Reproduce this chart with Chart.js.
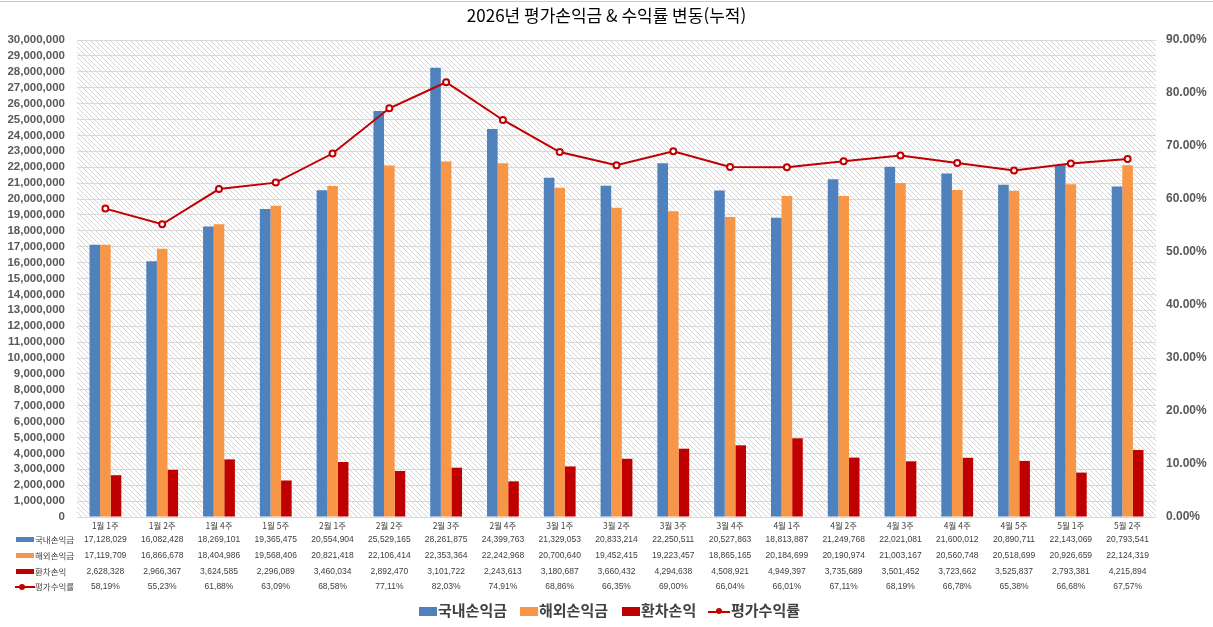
<!DOCTYPE html>
<html lang="ko">
<head>
<meta charset="utf-8">
<title>2026년 평가손익금 & 수익률 변동(누적)</title>
<script src="https://cdn.jsdelivr.net/npm/chart.js@4.4.1/dist/chart.umd.min.js"></script>
<style>
  html, body { margin: 0; padding: 0; background: #fff; }
  #wrap { width: 1213px; height: 627px; }
</style>
</head>
<body>
<div id="wrap"><canvas id="chart" width="1213" height="627"></canvas></div>
<script>
const weeks = ['1월 1주', '1월 2주', '1월 4주', '1월 5주', '2월 1주', '2월 2주', '2월 3주', '2월 4주', '3월 1주', '3월 2주',
               '3월 3주', '3월 4주', '4월 1주', '4월 2주', '4월 3주', '4월 4주', '4월 5주', '5월 1주', '5월 2주'];
const domestic = [17128029, 16082428, 18269101, 19365475, 20554904, 25529165, 28261875, 24399763, 21329053, 20833214,
                  22250511, 20527863, 18813887, 21249768, 22021081, 21600012, 20890711, 22143069, 20793541];
const overseas = [17119709, 16866678, 18404986, 19568406, 20821418, 22106414, 22353364, 22242968, 20700640, 19452415,
                  19223457, 18865165, 20184699, 20190974, 21003167, 20560748, 20518699, 20926659, 22124319];
const fxGain = [2628328, 2966367, 3624585, 2296089, 3460034, 2892470, 3101722, 2243613, 3180687, 3660432,
                4294638, 4508921, 4949397, 3735689, 3501452, 3723662, 3525837, 2793381, 4215894];
const returnRate = [58.19, 55.23, 61.88, 63.09, 68.58, 77.11, 82.03, 74.91, 68.86, 66.35,
                    69.00, 66.04, 66.01, 67.11, 68.19, 66.78, 65.38, 66.68, 67.57];

const seriesNames = ['국내손익금', '해외손익금', '환차손익', '평가수익률'];
const colors = ['#4f81bd', '#f79646', '#c00000', '#c00000'];
const FONT = '"Liberation Sans", "Noto Sans CJK KR", sans-serif';
const KFONT = '"Noto Sans CJK KR", "Liberation Sans", sans-serif';

// 빗금 배경 패턴
function makeHatch() {
  const s = 5;
  const c = document.createElement('canvas');
  c.width = s; c.height = s;
  const g = c.getContext('2d');
  g.fillStyle = '#ffffff';
  g.fillRect(0, 0, s, s);
  g.fillStyle = '#d6d6d6';
  for (let i = 0; i < s; i++) g.fillRect(i, i, 1, 1);
  return c;
}

const fmt = n => n.toLocaleString('en-US');

const backgroundPlugin = {
  id: 'hatchBg',
  beforeDraw(chart) {
    const { ctx, chartArea: a } = chart;
    ctx.save();
    // 시트 셀 테두리
    ctx.strokeStyle = '#c8c8c8';
    ctx.lineWidth = 1;
    ctx.beginPath();
    ctx.moveTo(0, 1.5); ctx.lineTo(chart.width, 1.5);
    ctx.stroke();
    ctx.fillStyle = ctx.createPattern(makeHatch(), 'repeat');
    ctx.fillRect(a.left, a.top, a.right - a.left, a.bottom - a.top);
    ctx.restore();
  }
};

// 데이터 표 + 범례
const tablePlugin = {
  id: 'dataTable',
  afterDraw(chart) {
    const { ctx } = chart;
    const x = chart.scales.x;
    const rows = [
      domestic.map(fmt),
      overseas.map(fmt),
      fxGain.map(fmt),
      returnRate.map(v => v.toFixed(2).replace('.', ',') + '%')
    ];
    const rowY = [540, 556, 572, 587];
    ctx.save();
    ctx.textBaseline = 'middle';
    rows.forEach((row, r) => {
      const y = rowY[r];
      // 범례 표시
      if (r < 3) {
        ctx.fillStyle = colors[r];
        ctx.fillRect(16, y - 3, 18, 5);
      } else {
        ctx.strokeStyle = colors[r];
        ctx.lineWidth = 2;
        ctx.beginPath();
        ctx.moveTo(15, y); ctx.lineTo(35, y);
        ctx.stroke();
        ctx.fillStyle = colors[r];
        ctx.beginPath();
        ctx.arc(22, y, 3, 0, Math.PI * 2);
        ctx.fill();
      }
      ctx.fillStyle = '#404040';
      ctx.font = '8.5px ' + KFONT;
      ctx.textAlign = 'left';
      ctx.fillText(seriesNames[r], 35, y);
      ctx.font = '8.5px ' + FONT;
      ctx.textAlign = 'center';
      row.forEach((txt, i) => {
        ctx.fillText(txt, x.getPixelForValue(i), y);
      });
    });

    // 하단 범례
    const items = [
      { x: 419, w: 18 },
      { x: 520, w: 18 },
      { x: 622, w: 18 },
      { x: 708, w: 22 }
    ];
    const ly = 610;
    ctx.font = 'bold 15px ' + KFONT;
    ctx.textAlign = 'left';
    items.forEach((it, i) => {
      if (i < 3) {
        ctx.fillStyle = colors[i];
        ctx.fillRect(it.x, ly - 3, it.w, 9);
      } else {
        ctx.strokeStyle = colors[i];
        ctx.lineWidth = 2;
        ctx.beginPath();
        ctx.moveTo(it.x, ly + 2); ctx.lineTo(it.x + it.w, ly + 2);
        ctx.stroke();
        ctx.fillStyle = colors[i];
        ctx.beginPath();
        ctx.arc(it.x + it.w / 2, ly + 1, 3, 0, Math.PI * 2);
        ctx.fill();
      }
      ctx.fillStyle = '#404040';
      ctx.fillText(seriesNames[i], it.x + it.w + 1, ly);
    });
    ctx.restore();
  }
};

const barCommon = {
  type: 'bar',
  yAxisID: 'y',
  barPercentage: 1,
  categoryPercentage: 0.56,
  order: 1
};

new Chart(document.getElementById('chart').getContext('2d'), {
  data: {
    labels: weeks,
    datasets: [
      { ...barCommon, label: seriesNames[0], data: domestic, backgroundColor: colors[0] },
      { ...barCommon, label: seriesNames[1], data: overseas, backgroundColor: colors[1] },
      { ...barCommon, label: seriesNames[2], data: fxGain, backgroundColor: colors[2] },
      {
        type: 'line',
        label: seriesNames[3],
        data: returnRate,
        yAxisID: 'y1',
        borderColor: colors[3],
        borderWidth: 2,
        pointRadius: 3,
        pointBorderWidth: 2,
        pointBackgroundColor: '#ffffff',
        pointBorderColor: colors[3],
        tension: 0,
        order: 0
      }
    ]
  },
  options: {
    responsive: false,
    animation: false,
    layout: { padding: { left: 0, right: 0, top: 0, bottom: 0 } },
    plugins: {
      legend: { display: false },
      tooltip: { enabled: false },
      title: {
        display: true,
        text: '2026년 평가손익금 & 수익률 변동(누적)',
        color: '#000000',
        font: { family: KFONT, size: 17, weight: 'normal' },
        padding: { top: 5, bottom: 14.6 }
      }
    },
    scales: {
      x: {
        grid: { display: false, drawTicks: false },
        border: { display: false },
        ticks: { color: '#404040', font: { family: KFONT, size: 8.5 }, padding: 4, maxRotation: 0, autoSkip: false },
        afterFit(scale) { scale.height = 110; }
      },
      y: {
        position: 'left',
        min: 0,
        max: 30000000,
        grid: { color: '#d9d9d9', drawTicks: false },
        border: { display: false },
        ticks: {
          stepSize: 1000000,
          autoSkip: false,
          padding: 12,
          color: '#595959',
          font: { family: FONT, size: 11.5, weight: 'bold' },
          callback: v => fmt(v)
        },
        afterFit(scale) { scale.width = 77; }
      },
      y1: {
        position: 'right',
        min: 0,
        max: 90,
        grid: { display: false, drawTicks: false },
        border: { display: false },
        ticks: {
          stepSize: 10,
          padding: 10,
          color: '#595959',
          font: { family: FONT, size: 12, weight: 'bold' },
          callback: v => v.toFixed(2) + '%'
        },
        afterFit(scale) { scale.width = 57; }
      }
    }
  },
  plugins: [backgroundPlugin, tablePlugin]
});
</script>
</body>
</html>
